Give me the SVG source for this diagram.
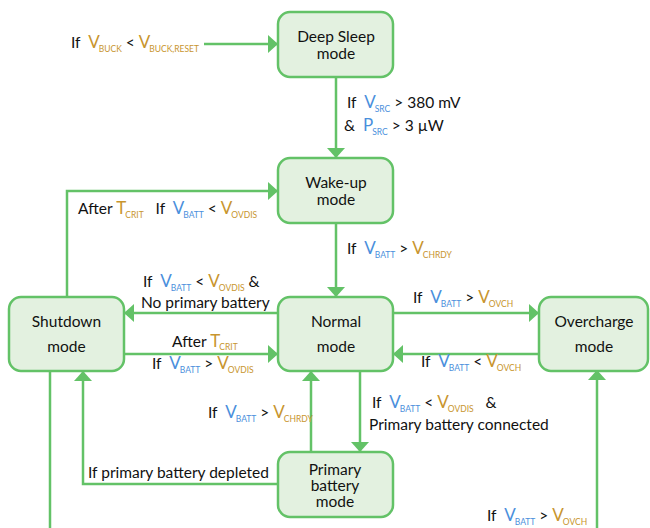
<svg xmlns="http://www.w3.org/2000/svg" width="650" height="528" viewBox="0 0 650 528">
<style>
.box{fill:#e3f1e0;stroke:#63c267;stroke-width:2.5}
.ln{fill:none;stroke:#63c267;stroke-width:2.5}
.arr{marker-end:url(#ah)}
text{font-family:Lato,"Liberation Sans",sans-serif;font-size:15.5px;fill:#111}
.n{text-anchor:middle}
.o{fill:#c8952e}
.b{fill:#4a8fdc}
.v{font-size:17px}
.s{font-size:8.5px}
</style>
<defs>
<marker id="ah" markerUnits="userSpaceOnUse" viewBox="0 0 10 18" refX="10" refY="9" markerWidth="10" markerHeight="18" orient="auto">
<path d="M0,0 L10,9 L0,18 z" fill="#63c267"/>
</marker>
</defs>
<rect width="650" height="528" fill="#fff"/>
<g id="connectors">
<path class="ln arr" d="M204,44 H278"/>
<path class="ln arr" d="M336,77 V158"/>
<path class="ln arr" d="M336,223 V297"/>
<path class="ln arr" d="M67,297 V191 H278"/>
<path class="ln arr" d="M278,313 H124"/>
<path class="ln arr" d="M124,354 H278"/>
<path class="ln arr" d="M393,313 H539"/>
<path class="ln arr" d="M539,354 H393"/>
<path class="ln arr" d="M360,371 V452"/>
<path class="ln arr" d="M311,452 V371"/>
<path class="ln arr" d="M278,484 H83 V371"/>
<path class="ln" d="M50,371 V530"/>
<path class="ln arr" d="M597,530 V370"/>
</g>
<g id="labels">
<text x="71" y="48">If&#160; <tspan class="o v">V</tspan><tspan class="o s" dx="-1" dy="4">BUCK</tspan><tspan dy="-4"> &lt; </tspan><tspan class="o v">V</tspan><tspan class="o s" dx="-1" dy="4">BUCK,RESET</tspan></text>
<text x="347" y="108">If&#160; <tspan class="b v">V</tspan><tspan class="b s" dx="-1" dy="4">SRC</tspan><tspan dy="-4"> &gt; 380 mV</tspan></text>
<text x="344" y="131">&amp;&#160; <tspan class="b v">P</tspan><tspan class="b s" dx="-1" dy="4">SRC</tspan><tspan dy="-4"> &gt; 3 µW</tspan></text>
<text x="78" y="214">After <tspan class="o v">T</tspan><tspan class="o s" dx="-1" dy="4">CRIT</tspan><tspan dy="-4">&#160;&#160; If&#160; </tspan><tspan class="b v">V</tspan><tspan class="b s" dx="-1" dy="4">BATT</tspan><tspan dy="-4"> &lt; </tspan><tspan class="o v">V</tspan><tspan class="o s" dx="-1" dy="4">OVDIS</tspan></text>
<text x="347" y="254">If&#160; <tspan class="b v">V</tspan><tspan class="b s" dx="-1" dy="4">BATT</tspan><tspan dy="-4"> &gt; </tspan><tspan class="o v">V</tspan><tspan class="o s" dx="-1" dy="4">CHRDY</tspan></text>
<text x="143" y="287">If&#160; <tspan class="b v">V</tspan><tspan class="b s" dx="-1" dy="4">BATT</tspan><tspan dy="-4"> &lt; </tspan><tspan class="o v">V</tspan><tspan class="o s" dx="-1" dy="4">OVDIS</tspan><tspan dy="-4"> &amp;</tspan></text>
<text x="141" y="308">No primary battery</text>
<text x="172" y="347">After <tspan class="o v">T</tspan><tspan class="o s" dx="-1" dy="3">CRIT</tspan></text>
<text x="152" y="369">If&#160; <tspan class="b v">V</tspan><tspan class="b s" dx="-1" dy="4">BATT</tspan><tspan dy="-4"> &gt; </tspan><tspan class="o v">V</tspan><tspan class="o s" dx="-1" dy="4">OVDIS</tspan></text>
<text x="413" y="303">If&#160; <tspan class="b v">V</tspan><tspan class="b s" dx="-1" dy="4">BATT</tspan><tspan dy="-4"> &gt; </tspan><tspan class="o v">V</tspan><tspan class="o s" dx="-1" dy="4">OVCH</tspan></text>
<text x="421" y="367">If&#160; <tspan class="b v">V</tspan><tspan class="b s" dx="-1" dy="4">BATT</tspan><tspan dy="-4"> &lt; </tspan><tspan class="o v">V</tspan><tspan class="o s" dx="-1" dy="4">OVCH</tspan></text>
<text x="208" y="418">If&#160; <tspan class="b v">V</tspan><tspan class="b s" dx="-1" dy="4">BATT</tspan><tspan dy="-4"> &gt; </tspan><tspan class="o v">V</tspan><tspan class="o s" dx="-1" dy="4">CHRDY</tspan></text>
<text x="372" y="408">If&#160; <tspan class="b v">V</tspan><tspan class="b s" dx="-1" dy="4">BATT</tspan><tspan dy="-4"> &lt; </tspan><tspan class="o v">V</tspan><tspan class="o s" dx="-1" dy="4">OVDIS</tspan><tspan dy="-4">&#160;&#160; &amp;</tspan></text>
<text x="369" y="430">Primary battery connected</text>
<text x="88" y="478">If primary battery depleted</text>
<text x="487" y="521">If&#160; <tspan class="b v">V</tspan><tspan class="b s" dx="-1" dy="4">BATT</tspan><tspan dy="-4"> &gt; </tspan><tspan class="o v">V</tspan><tspan class="o s" dx="-1" dy="4">OVCH</tspan></text>
</g>
<g id="deep-sleep"><rect class="box" x="278" y="12" width="115" height="65" rx="12"/><text class="n" x="336" y="42">Deep Sleep</text><text class="n" x="336" y="59">mode</text></g>
<g id="wake-up"><rect class="box" x="278" y="158" width="115" height="65" rx="12"/><text class="n" x="336" y="188">Wake-up</text><text class="n" x="336" y="205">mode</text></g>
<g id="shutdown"><rect class="box" x="9" y="297" width="115" height="74" rx="12"/><text class="n" x="66.5" y="327">Shutdown</text><text class="n" x="66.5" y="352">mode</text></g>
<g id="normal"><rect class="box" x="278" y="297" width="115" height="74" rx="12"/><text class="n" x="336" y="327">Normal</text><text class="n" x="336" y="352">mode</text></g>
<g id="overcharge"><rect class="box" x="539" y="297" width="109" height="74" rx="12"/><text class="n" x="594" y="327">Overcharge</text><text class="n" x="594" y="352">mode</text></g>
<g id="primary-battery"><rect class="box" x="278" y="452" width="115" height="65" rx="12"/><text class="n" x="335" y="475">Primary</text><text class="n" x="335" y="491">battery</text><text class="n" x="335" y="507">mode</text></g>
</svg>
